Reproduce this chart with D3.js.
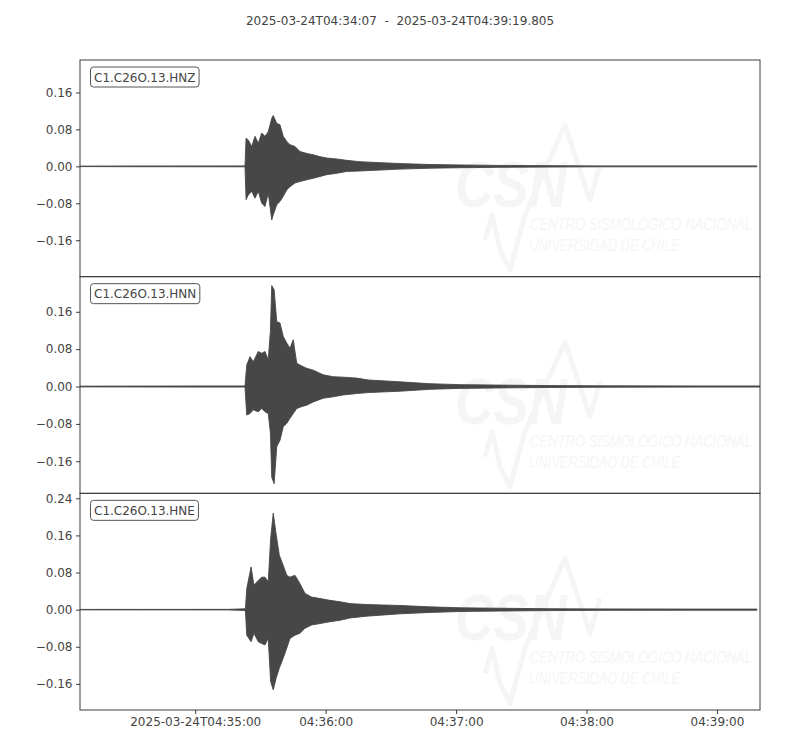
<!DOCTYPE html>
<html>
<head>
<meta charset="utf-8">
<script src="https://cdn.jsdelivr.net/npm/d3@7"></script>
<style>
  body { margin: 0; background: #fff; }
  svg { display: block; font-family: "DejaVu Sans", sans-serif; }
</style>
</head>
<body>
<div id="chart"></div>
<script>
// ---- data (time in seconds after 2025-03-24T04:34:07 UTC, amplitude envelope) ----
const titleText = "2025-03-24T04:34:07  -  2025-03-24T04:39:19.805";
const channels = ["C1.C26O.13.HNZ", "C1.C26O.13.HNN", "C1.C26O.13.HNE"];
const watermarkLines = ["CSN", "CENTRO SISMOLÓGICO NACIONAL", "UNIVERSIDAD DE CHILE"];
const traceStartMs = Date.UTC(2025, 2, 24, 4, 34, 7, 0);
const traceDurationS = 312.805;

const tZ  = [0, 23, 75.9, 76.4, 77.4, 79.0, 80.5, 82.0, 83.6, 85.1, 86.6, 88.2, 88.9, 90.5, 92.0, 93.5, 95.1, 96.6, 98.9, 101.2, 104.3, 107.3, 110.4, 113.5, 118.1, 122.7, 128.8, 138.0, 147.2, 161.0, 174.8, 193.2, 216.2, 239.2, 285.2, 311.4];
const hiZ = [0.0005, 0.0008, 0.001, 0.061, 0.057, 0.043, 0.065, 0.050, 0.072, 0.065, 0.075, 0.104, 0.110, 0.093, 0.090, 0.065, 0.054, 0.047, 0.043, 0.032, 0.028, 0.025, 0.021, 0.018, 0.016, 0.013, 0.010, 0.008, 0.006, 0.004, 0.003, 0.002, 0.0015, 0.001, 0.001, 0.001];
const loZ = [-0.0005, -0.0008, -0.001, -0.072, -0.062, -0.054, -0.069, -0.054, -0.080, -0.087, -0.058, -0.116, -0.105, -0.083, -0.076, -0.065, -0.051, -0.044, -0.036, -0.033, -0.029, -0.026, -0.022, -0.018, -0.015, -0.011, -0.010, -0.008, -0.006, -0.004, -0.003, -0.002, -0.0015, -0.001, -0.001, -0.001];

const tN  = [0, 32.2, 55.2, 75.9, 76.7, 78.2, 79.7, 82.0, 83.6, 85.1, 86.6, 87.6, 88.2, 89.3, 90.5, 92.0, 93.5, 95.1, 96.6, 98.1, 99.7, 102.0, 104.3, 107.3, 111.9, 116.5, 121.1, 127.3, 132.6, 147.2, 161.0, 174.8, 193.2, 216.2, 239.2, 285.2, 312.8];
const hiN = [0.0008, 0.001, 0.0012, 0.0012, 0.046, 0.064, 0.053, 0.075, 0.071, 0.075, 0.057, 0.120, 0.216, 0.207, 0.139, 0.136, 0.107, 0.093, 0.082, 0.100, 0.050, 0.044, 0.039, 0.035, 0.025, 0.021, 0.020, 0.018, 0.014, 0.010, 0.006, 0.004, 0.003, 0.002, 0.0015, 0.0012, 0.0012];
const loN = [-0.0008, -0.001, -0.0012, -0.0012, -0.061, -0.058, -0.050, -0.054, -0.047, -0.054, -0.058, -0.100, -0.194, -0.208, -0.129, -0.115, -0.086, -0.079, -0.068, -0.058, -0.047, -0.043, -0.040, -0.033, -0.025, -0.022, -0.018, -0.015, -0.013, -0.010, -0.006, -0.004, -0.003, -0.002, -0.0015, -0.0012, -0.0012];

const tE  = [0, 68.1, 73.6, 76.1, 76.7, 78.7, 80.0, 82.0, 83.6, 85.1, 86.6, 87.7, 88.9, 90.2, 91.7, 93.2, 95.1, 96.6, 98.9, 101.2, 103.5, 106.6, 110.4, 115.0, 119.6, 124.2, 131.9, 147.2, 161.0, 174.8, 193.2, 216.2, 239.2, 285.2, 311.4];
const hiE = [0.0005, 0.0006, 0.0015, 0.002, 0.045, 0.092, 0.053, 0.063, 0.070, 0.070, 0.060, 0.153, 0.208, 0.163, 0.117, 0.099, 0.074, 0.070, 0.074, 0.056, 0.035, 0.027, 0.024, 0.020, 0.017, 0.013, 0.011, 0.009, 0.006, 0.004, 0.003, 0.002, 0.0015, 0.0012, 0.0012];
const loE = [-0.0005, -0.0006, -0.0015, -0.002, -0.055, -0.069, -0.051, -0.069, -0.073, -0.076, -0.062, -0.155, -0.173, -0.148, -0.126, -0.108, -0.083, -0.062, -0.055, -0.051, -0.040, -0.033, -0.030, -0.026, -0.023, -0.018, -0.014, -0.009, -0.006, -0.004, -0.003, -0.002, -0.0015, -0.0012, -0.0012];

const yDomains = [[-0.2389, 0.2303], [-0.2287, 0.2352], [-0.2163, 0.2507]];
const yTicks = [
  [-0.16, -0.08, 0.00, 0.08, 0.16],
  [-0.16, -0.08, 0.00, 0.08, 0.16],
  [-0.16, -0.08, 0.00, 0.08, 0.16, 0.24]
];
const xTickTimes = ["04:35:00", "04:36:00", "04:37:00", "04:38:00", "04:39:00"];

// ---- layout ----
const W = 800, H = 750;
const plotL = 80, plotR = 760, plotT = 60, plotB = 710;
const panelH = (plotB - plotT) / 3;
const ink = "#474747";
const textCol = "#444";
const wmCol = "#f5f5f5";

const traces = [
  { t: tZ, hi: hiZ, lo: loZ },
  { t: tN, hi: hiN, lo: loN },
  { t: tE, hi: hiE, lo: loE }
];

const svg = d3.select("#chart").append("svg").attr("width", W).attr("height", H);

svg.append("text")
  .attr("x", 400).attr("y", 24.5)
  .attr("text-anchor", "middle")
  .attr("font-size", 12)
  .attr("fill", textCol)
  .style("white-space", "pre")
  .attr("xml:space", "preserve")
  .text(titleText);

const x = d3.scaleUtc()
  .domain([new Date(traceStartMs), new Date(traceStartMs + traceDurationS * 1000)])
  .range([plotL, plotR]);

const secToDate = s => new Date(traceStartMs + s * 1000);

// condensed text: draw at natural size, then squeeze horizontally to the target width
function squeezedText(parent, str, px, py, size, targetW, opts) {
  const t = parent.append("text")
    .attr("font-family", "'Liberation Sans', 'DejaVu Sans', sans-serif")
    .attr("font-style", "italic")
    .attr("font-weight", opts && opts.bold ? "bold" : "normal")
    .attr("font-size", size)
    .attr("fill", wmCol)
    .text(str);
  const nat = t.node().getComputedTextLength();
  t.attr("transform", `translate(${px},${py}) scale(${targetW / nat},1)`);
  return t;
}

channels.forEach((ch, i) => {
  const y0 = plotT + i * panelH;
  const y = d3.scaleLinear().domain(yDomains[i]).range([y0 + panelH, y0]);
  const g = svg.append("g");

  g.append("defs").append("clipPath").attr("id", "clip" + i)
    .append("rect").attr("x", plotL).attr("y", y0).attr("width", plotR - plotL).attr("height", panelH);

  // faint watermark (logo decoration)
  const wmOuter = g.append("g").attr("clip-path", `url(#clip${i})`);
  const wm = wmOuter.append("g").attr("transform", `translate(${plotL},${y0})`);
  const logo = [[405,180],[412,155],[420,190],[430,210],[445,155],[465,110],[485,65],[500,110],[510,140],[520,105]];
  wm.append("path").attr("d", d3.line()(logo))
    .attr("fill", "none").attr("stroke", wmCol).attr("stroke-width", 5).attr("stroke-linejoin", "round");
  squeezedText(wm, watermarkLines[0], 375, 147, 64, 112, { bold: true });
  squeezedText(wm, watermarkLines[1], 450, 170, 17, 222);
  squeezedText(wm, watermarkLines[2], 449, 191, 17, 151);

  // trace
  const tr = traces[i];
  const pts = tr.t.map((s, k) => ({ d: secToDate(s), hi: tr.hi[k], lo: tr.lo[k] }));
  const area = d3.area().x(p => x(p.d)).y0(p => y(p.lo)).y1(p => y(p.hi));
  g.append("path").datum(pts)
    .attr("clip-path", `url(#clip${i})`)
    .attr("d", area)
    .attr("fill", ink)
    .attr("stroke", ink)
    .attr("stroke-width", 0.9)
    .attr("stroke-linejoin", "round");

  // frame
  g.append("rect").attr("x", plotL).attr("y", y0).attr("width", plotR - plotL).attr("height", panelH)
    .attr("fill", "none").attr("stroke", "#3c3c3c").attr("stroke-width", 1);

  // y axis
  const ya = g.append("g").attr("transform", `translate(${plotL},0)`)
    .call(d3.axisLeft(y).tickValues(yTicks[i]).tickFormat(d3.format(".2f")).tickSize(4).tickPadding(3.5));
  ya.select(".domain").remove();
  ya.selectAll("line").attr("stroke", "#3c3c3c");
  ya.selectAll("text").attr("font-size", 12).attr("fill", textCol).attr("font-family", "'DejaVu Sans', sans-serif");

  // channel label
  const lg = g.append("g");
  const lt = lg.append("text").attr("x", plotL + 14).attr("y", y0 + 21.5)
    .attr("font-size", 12).attr("fill", textCol).text(ch);
  const bb = lt.node().getBBox();
  lg.insert("rect", "text")
    .attr("x", bb.x - 3.5).attr("y", y0 + 7).attr("width", bb.width + 7).attr("height", 20)
    .attr("rx", 3).attr("fill", "#fff").attr("stroke", "#555").attr("stroke-width", 1);
});

// x axis at bottom
const tickDates = xTickTimes.map(s => {
  const [hh, mm, ss] = s.split(":").map(Number);
  return new Date(Date.UTC(2025, 2, 24, hh, mm, ss));
});
const xa = svg.append("g").attr("transform", `translate(0,${plotB})`)
  .call(d3.axisBottom(x).tickValues(tickDates).tickSize(4).tickPadding(3.5)
    .tickFormat((d, k) => k === 0 ? d3.utcFormat("%Y-%m-%dT%H:%M:%S")(d) : d3.utcFormat("%H:%M:%S")(d)));
xa.select(".domain").remove();
xa.selectAll("line").attr("stroke", "#3c3c3c");
xa.selectAll("text").attr("font-size", 12).attr("fill", textCol).attr("font-family", "'DejaVu Sans', sans-serif");
</script>
</body>
</html>
